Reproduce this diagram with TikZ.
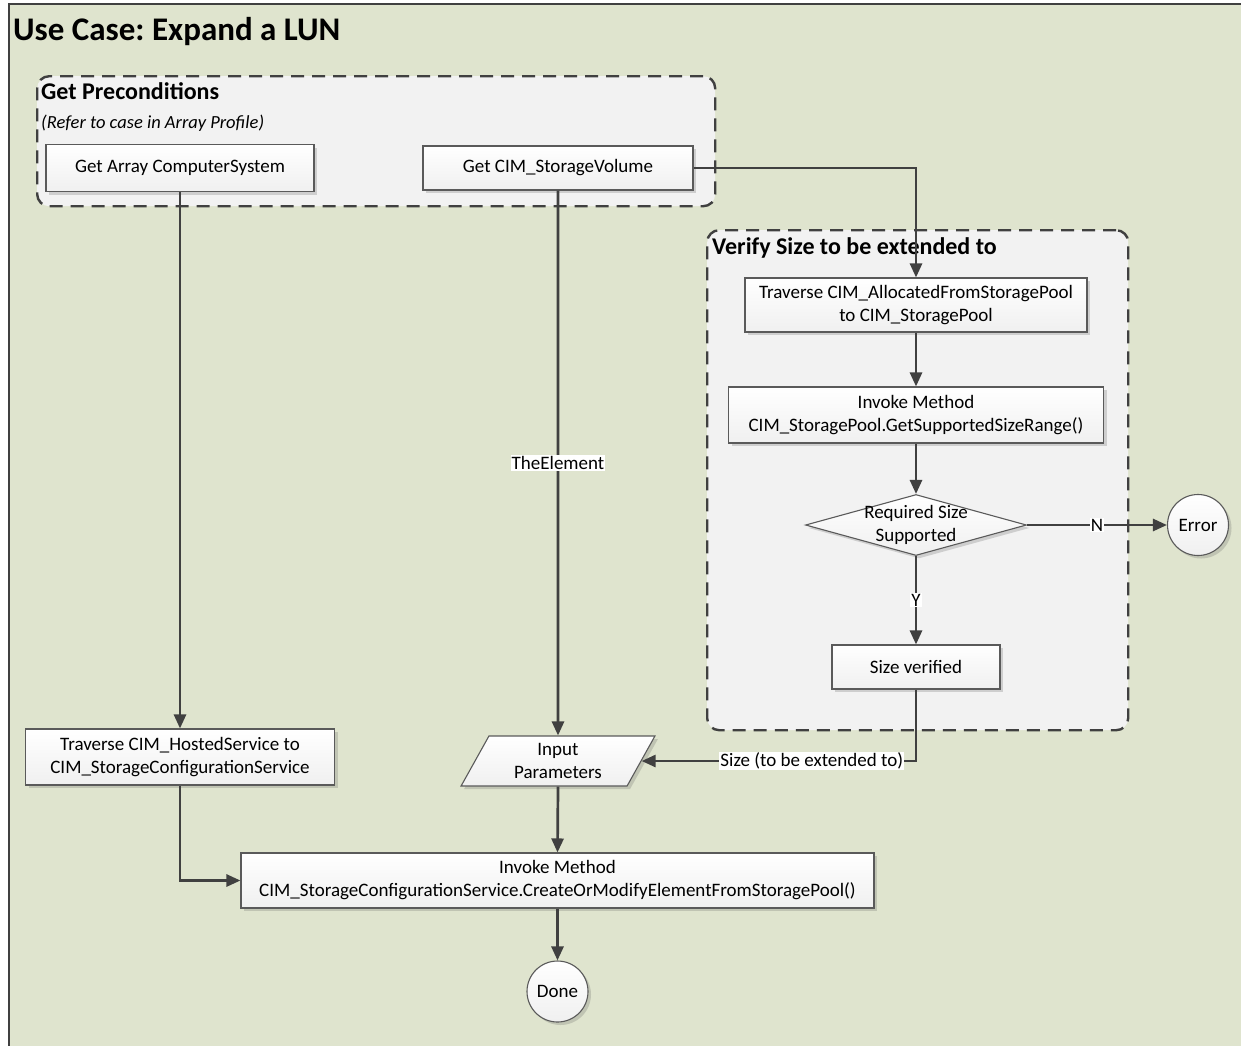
\documentclass[tikz,border=0pt]{standalone}
\usepackage{fontspec}
\setmainfont{Carlito}
\frenchspacing
\usetikzlibrary{shapes.geometric,arrows.meta,shadows}
\definecolor{pagebg}{HTML}{DFE4CE}
\definecolor{groupbg}{HTML}{F2F2F2}
\definecolor{ink}{HTML}{404040}
\definecolor{boxline}{HTML}{5A5A5A}
\tikzset{
  bodyfont/.style={font=\fontsize{19}{23}\selectfont},
  stepbox/.style={draw=boxline, line width=1.1pt, rectangle, top color=white, bottom color=black!6,
    drop shadow={shadow xshift=3pt, shadow yshift=-3pt, opacity=0.25, fill=black!60},
    bodyfont, align=center, inner sep=2pt},
  endcircle/.style={stepbox, circle, minimum size=61pt, inner sep=0pt},
  groupbox/.style={draw=ink, line width=2.4pt, dash pattern=on 13pt off 8pt, fill=groupbg,
    rounded corners=12pt, rectangle, anchor=north west, inner sep=0pt},
  grouptitle/.style={font=\fontsize{24}{29}\selectfont\bfseries, anchor=base west, inner sep=0pt},
  conn/.style={draw=ink, line width=2.7pt, -{Triangle[length=14pt, width=12pt]}},
  lbl/.style={fill=white, inner sep=1pt, bodyfont, text=black},
}
\begin{document}
\begin{tikzpicture}[x=1pt, y=-1pt]
  \useasboundingbox (0,0) rectangle (1241,1045);
  \clip (0,0) rectangle (1241,1045);
  \fill[white] (0,0) rectangle (1241,1045);
  % outer frame of the use case
  \draw[fill=pagebg, draw=ink, line width=2pt] (9,4) rectangle (1270,1070);
  \node[anchor=base west, inner sep=0pt, font=\fontsize{33}{38}\selectfont\bfseries] (title) at (13,40) {Use Case: Expand a LUN};

  % group: preconditions
  \node[groupbox, minimum width=678pt, minimum height=130pt] (pregrp) at (36,75) {};
  \node[grouptitle] (pretitle) at (41,99) {Get Preconditions};
  \node[anchor=base west, inner sep=0pt, font=\fontsize{18.5}{22}\selectfont\itshape] (prenote) at (41,128) {(Refer to case in Array Profile)};

  % group: size verification
  \node[groupbox, minimum width=421pt, minimum height=500pt] (vergrp) at (706,229) {};
  \node[grouptitle] (vertitle) at (712,254) {Verify Size to be extended to};

  % process steps
  \node[stepbox, minimum width=268pt, minimum height=47pt] (gacs) at (180,168) {Get Array ComputerSystem};
  \node[stepbox, minimum width=270pt, minimum height=44pt] (gsv) at (558,168) {Get CIM\_StorageVolume};
  \node[stepbox, minimum width=342pt, minimum height=54pt] (tas) at (916,305) {Traverse CIM\_AllocatedFromStoragePool\\to CIM\_StoragePool};
  \node[stepbox, minimum width=375pt, minimum height=56pt] (gsr) at (916,415) {Invoke Method\\CIM\_StoragePool.GetSupportedSizeRange()};
  \node[stepbox, diamond, minimum width=221pt, minimum height=61pt, inner sep=0pt] (dec) at (916,525) {};
  \node[bodyfont, align=center, inner sep=0pt] (dectext) at (916,525) {Required Size\\Supported};
  \node[endcircle] (err) at (1198,525) {Error};
  \node[stepbox, minimum width=168pt, minimum height=44pt] (sv) at (916,667) {Size verified};
  \node[stepbox, minimum width=309pt, minimum height=56pt] (ths) at (180,757) {Traverse CIM\_HostedService to\\CIM\_StorageConfigurationService};
  \node[stepbox, trapezium, trapezium left angle=63.4, trapezium right angle=116.6, trapezium stretches=true,
        minimum width=194pt, minimum height=50pt, inner sep=0pt] (inp) at (558,761) {Input\\Parameters};
  \node[stepbox, minimum width=633pt, minimum height=55pt] (inv) at (557.5,880.5) {Invoke Method\\CIM\_StorageConfigurationService.CreateOrModifyElementFromStoragePool()};
  \node[endcircle] (done) at (557.5,991.5) {Done};

  % connectors
  \draw[conn] (gacs.south) -- (ths.north);
  \draw[conn] (ths.south) |- (inv.west);
  \draw[conn] (gsv.south) -- node[lbl] {TheElement} (inp.north);
  \draw[conn] (inp.south) -- (inv.north);
  \draw[conn] (inv.south) -- (done.north);
  \draw[conn] (gsv.east) -| (tas.north);
  \draw[conn] (tas.south) -- (gsr.north);
  \draw[conn] (gsr.south) -- (dec.north);
  \draw[conn] (dec.east) -- node[lbl] {N} (err.west);
  \draw[conn] (dec.south) -- node[lbl] {Y} (sv.north);
  \draw[conn] (sv.south) |- node[lbl, pos=0.69] {Size (to be extended to)} (inp.east);
\end{tikzpicture}
\end{document}
